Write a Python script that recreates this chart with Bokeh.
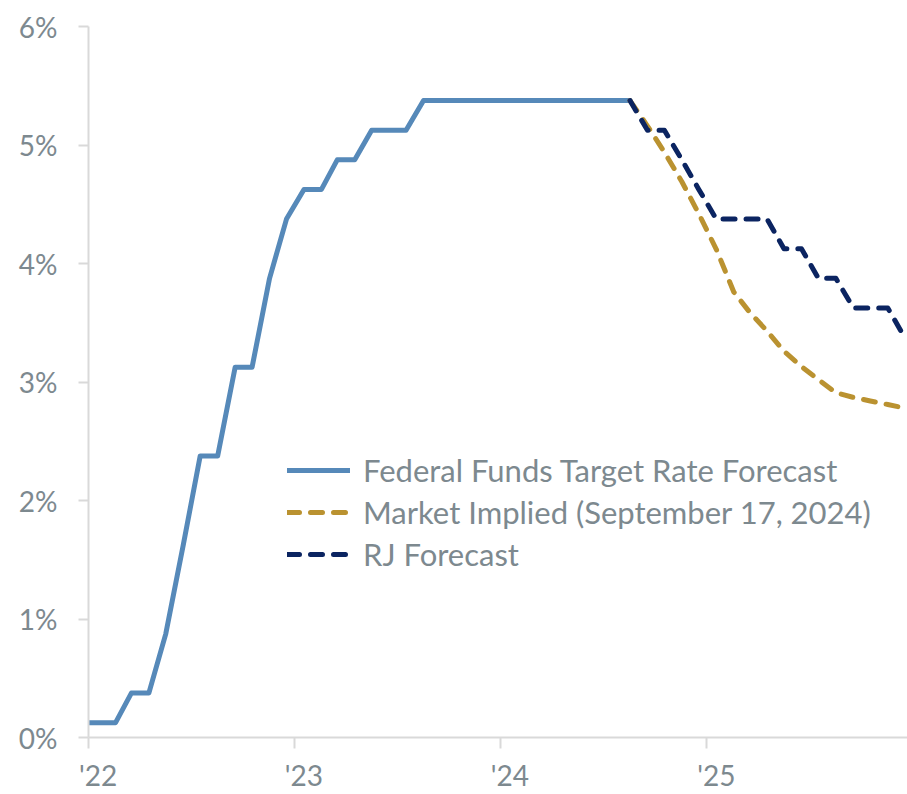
import pandas as pd
from bokeh.plotting import figure
from bokeh.models import (Range1d, LinearAxis, FixedTicker, CustomJSTickFormatter,
                          Legend, LegendItem, ColumnDataSource)
from bokeh.embed import file_html
from bokeh.resources import INLINE

# ---------------- data ----------------
fed_months = ["2021-12",
              "2022-01", "2022-02", "2022-03", "2022-04", "2022-05", "2022-06",
              "2022-07", "2022-08", "2022-09", "2022-10", "2022-11", "2022-12",
              "2023-01", "2023-02", "2023-03", "2023-04", "2023-05", "2023-06",
              "2023-07", "2023-08", "2023-09", "2023-10", "2023-11", "2023-12",
              "2024-01", "2024-02", "2024-03", "2024-04", "2024-05", "2024-06",
              "2024-07", "2024-08"]
fed_rate = [0.125,
            0.125, 0.125, 0.375, 0.375, 0.875, 1.625,
            2.375, 2.375, 3.125, 3.125, 3.875, 4.375,
            4.625, 4.625, 4.875, 4.875, 5.125, 5.125,
            5.125, 5.375, 5.375, 5.375, 5.375, 5.375,
            5.375, 5.375, 5.375, 5.375, 5.375, 5.375,
            5.375, 5.375]

fcst_months = ["2024-08", "2024-09", "2024-10", "2024-11", "2024-12",
               "2025-01", "2025-02", "2025-03", "2025-04", "2025-05", "2025-06",
               "2025-07", "2025-08", "2025-09", "2025-10", "2025-11", "2025-12"]
market_rate = [5.375, 5.16, 4.94, 4.69, 4.42,
               4.12, 3.76, 3.59, 3.43, 3.26, 3.13,
               3.02, 2.91, 2.87, 2.84, 2.81, 2.78]
rj_rate = [5.375, 5.125, 5.125, 4.875, 4.625,
           4.375, 4.375, 4.375, 4.375, 4.125, 4.125,
           3.875, 3.875, 3.625, 3.625, 3.625, 3.375]

year_ticks = ["2022-01-01", "2023-01-01", "2024-01-01", "2025-01-01"]
year_label_pos = ["2022-01-18", "2023-01-18", "2024-01-18", "2025-01-18"]
xtick_labels = ["'22", "'23", "'24", "'25"]
ytick_values = [0, 1, 2, 3, 4, 5, 6]
ytick_labels = ["0%", "1%", "2%", "3%", "4%", "5%", "6%"]

series_names = ["Federal Funds Target Rate Forecast",
                "Market Implied (September 17, 2024)",
                "RJ Forecast"]
# --------------------------------------


def to_ms(s):
    return pd.Timestamp(s).value / 1e6


def month_ms(months):
    return [to_ms(m + "-18") for m in months]


FONT = "Lato"
GREY = "#7d898f"
AXIS = "#d9d9d9"
BLUE = "#5689b9"
GOLD = "#ba9230"
NAVY = "#0b2461"

p = figure(width=907, height=794,
           x_axis_type=None, y_axis_type=None,
           x_range=Range1d(to_ms("2022-01-01"), to_ms("2025-12-23")),
           y_range=Range1d(0, 6),
           output_backend="svg", toolbar_location=None,
           min_border_left=88, min_border_right=0,
           min_border_top=26, min_border_bottom=55)
p.outline_line_color = None
p.background_fill_color = "white"
p.border_fill_color = "white"

# y axis
yax = LinearAxis(ticker=FixedTicker(ticks=ytick_values))
yax.major_label_overrides = {v: l for v, l in zip(ytick_values, ytick_labels)}
yax.axis_line_color = AXIS
yax.axis_line_width = 2
yax.major_tick_line_color = AXIS
yax.major_tick_line_width = 2
yax.major_tick_out = 10
yax.major_tick_in = 0
yax.minor_tick_line_color = None
yax.major_label_standoff = 21
yax.major_label_text_font = FONT
yax.major_label_text_font_size = "28px"
yax.major_label_text_color = GREY
p.add_layout(yax, "left")

# x axis: tick marks at year starts
xticks_ax = LinearAxis(ticker=FixedTicker(ticks=[to_ms(d) for d in year_ticks]),
                       formatter=CustomJSTickFormatter(code="return ''"))
xticks_ax.axis_line_color = AXIS
xticks_ax.axis_line_width = 2
xticks_ax.major_tick_line_color = AXIS
xticks_ax.major_tick_line_width = 2
xticks_ax.major_tick_out = 11
xticks_ax.major_tick_in = 0
xticks_ax.minor_tick_line_color = None
xticks_ax.major_label_standoff = 0
xticks_ax.major_label_text_font_size = "1px"
p.add_layout(xticks_ax, "below")

# x axis: year labels
xlab_ax = LinearAxis(ticker=FixedTicker(ticks=[to_ms(d) for d in year_label_pos]),
                     formatter=CustomJSTickFormatter(args=dict(labels=xtick_labels),
                                                     code="return labels[index]"))
xlab_ax.axis_line_color = None
xlab_ax.major_tick_line_color = None
xlab_ax.major_tick_out = 0
xlab_ax.major_tick_in = 0
xlab_ax.minor_tick_line_color = None
xlab_ax.major_label_standoff = 9
xlab_ax.major_label_text_font = FONT
xlab_ax.major_label_text_font_size = "28px"
xlab_ax.major_label_text_color = GREY
p.add_layout(xlab_ax, "below")

fed_src = ColumnDataSource(dict(x=month_ms(fed_months), y=fed_rate))
mkt_src = ColumnDataSource(dict(x=month_ms(fcst_months), y=market_rate))
rj_src = ColumnDataSource(dict(x=month_ms(fcst_months), y=rj_rate))

r_fed = p.line("x", "y", source=fed_src, line_color=BLUE, line_width=5,
               line_cap="round", line_join="round")
r_mkt = p.line("x", "y", source=mkt_src, line_color=GOLD, line_width=5,
               line_dash="12 11", line_cap="round", line_join="round")
r_rj = p.line("x", "y", source=rj_src, line_color=NAVY, line_width=5,
              line_dash="12 11", line_cap="round", line_join="round")

legend = Legend(items=[LegendItem(label=series_names[0], renderers=[r_fed]),
                       LegendItem(label=series_names[1], renderers=[r_mkt]),
                       LegendItem(label=series_names[2], renderers=[r_rj])],
                location=(199, 164))
legend.border_line_color = None
legend.background_fill_alpha = 0
legend.padding = 0
legend.margin = 0
legend.spacing = 4
legend.glyph_width = 63
legend.glyph_height = 38
legend.label_height = 38
legend.label_standoff = 13
legend.label_text_font = FONT
legend.label_text_font_size = "31px"
legend.label_text_color = GREY
p.add_layout(legend, "center")

open("out.html", "w").write(file_html(p, INLINE))
